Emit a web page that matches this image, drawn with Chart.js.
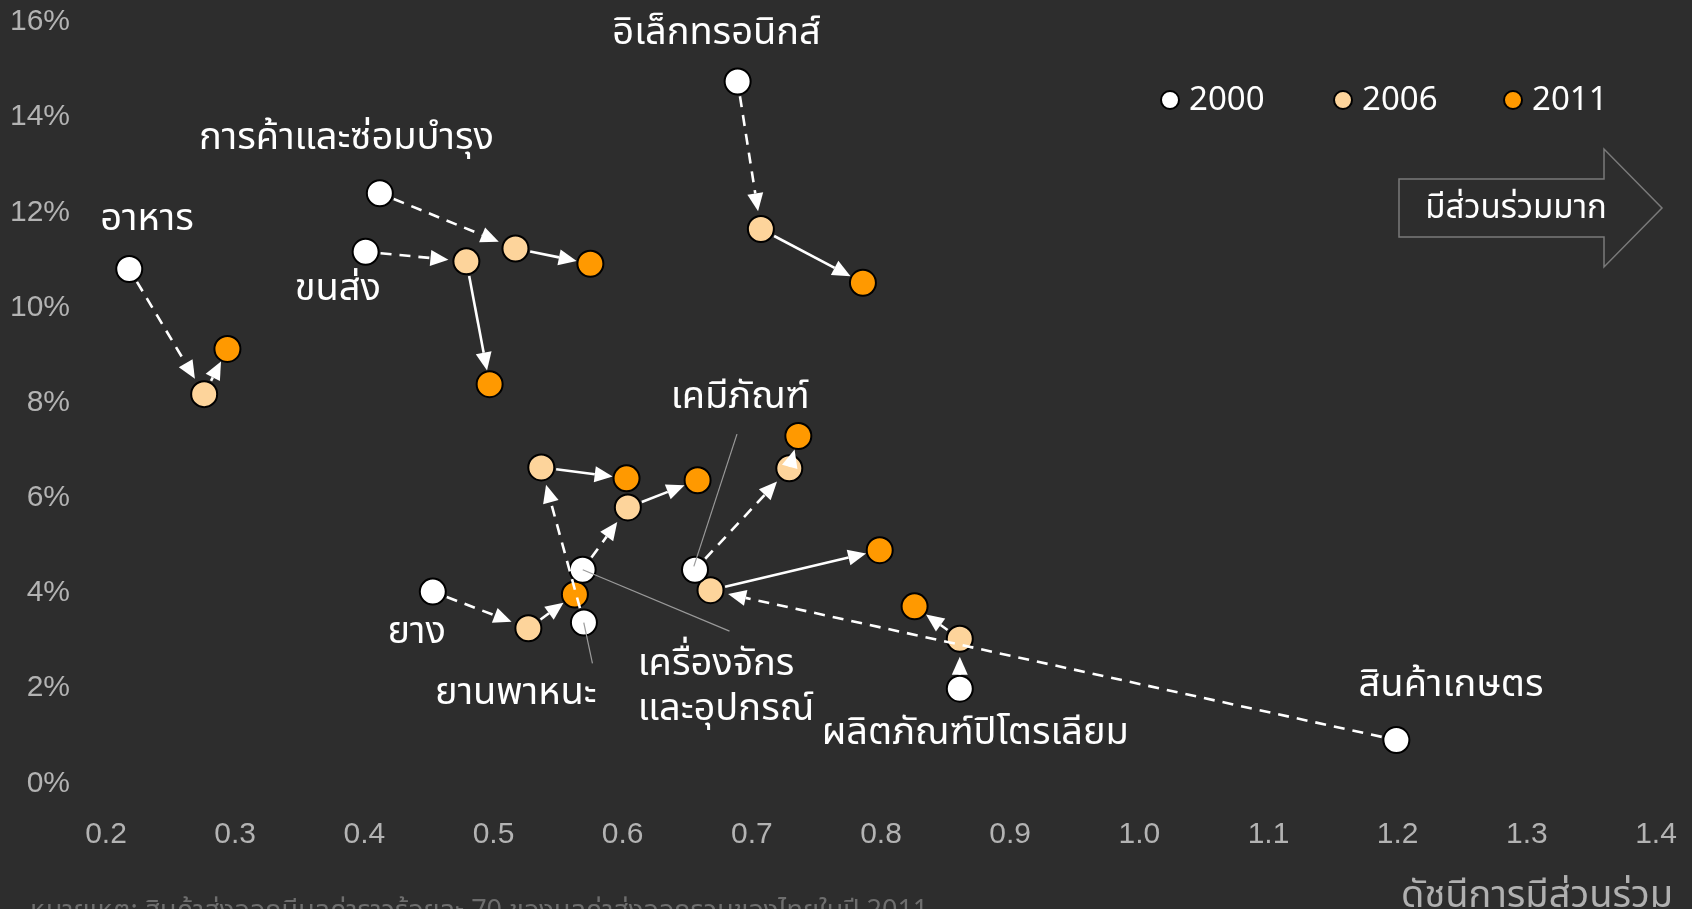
<!DOCTYPE html>
<html><head><meta charset="utf-8">
<script src="https://cdn.jsdelivr.net/npm/chart.js@4.4.1/dist/chart.umd.min.js"></script>
<style>html,body{margin:0;padding:0;background:#2d2d2d;overflow:hidden}#wrap{width:1692px;height:909px;position:relative}</style>
</head><body><div id="wrap"><canvas id="c"></canvas></div>
<script>
// ---- data ----
const categories = ['อาหาร','การค้าและซ่อมบำรุง','ขนส่ง','อิเล็กทรอนิกส์','เคมีภัณฑ์','สินค้าเกษตร','ผลิตภัณฑ์ปิโตรเลียม','เครื่องจักรและอุปกรณ์','ยานพาหนะ','ยาง'];
const years = ['2000','2006','2011'];
const x2000 = [0.218,0.412,0.401,0.689,0.656,1.199,0.861,0.569,0.570,0.453];
const y2000 = [10.81,12.40,11.17,14.75,4.49,0.91,1.99,4.49,3.38,4.03];
const x2006 = [0.276,0.517,0.479,0.707,0.729,0.668,0.861,0.604,0.537,0.527];
const y2006 = [8.18,11.24,10.97,11.65,6.62,4.06,3.04,5.80,6.64,3.26];
const x2011 = [0.294,0.575,0.497,0.786,0.736,0.799,0.826,0.658,0.603,0.563];
const y2011 = [9.13,10.92,8.39,10.52,7.30,4.90,3.72,6.37,6.41,3.97];
const xTicks = [0.2,0.3,0.4,0.5,0.6,0.7,0.8,0.9,1.0,1.1,1.2,1.3,1.4];
const yTicks = [0,2,4,6,8,10,12,14,16];
const xTitle = 'ดัชนีการมีส่วนร่วม';
const arrowNote = 'มีส่วนร่วมมาก';
const footnote = 'หมายเหตุ: สินค้าส่งออกมีมูลค่าราวร้อยละ 70 ของมูลค่าส่งออกรวมของไทยในปี 2011';

// ---- annotation placement (data coordinates) ----
const labelLines = [['อาหาร'],['การค้าและซ่อมบำรุง'],['ขนส่ง'],['อิเล็กทรอนิกส์'],['เคมีภัณฑ์'],['สินค้าเกษตร'],['ผลิตภัณฑ์ปิโตรเลียม'],['เครื่องจักร','และอุปกรณ์'],['ยานพาหนะ'],['ยาง']];
const labelAt = [
  {x:0.2317,y:11.92,a:'center'},{x:0.3862,y:13.62,a:'center'},{x:0.3795,y:10.45,a:'center'},
  {x:0.6727,y:15.82,a:'center'},{x:0.691,y:8.18,a:'center'},{x:1.2413,y:2.13,a:'center'},
  {x:0.873,y:1.11,a:'center'},{x:0.6117,y:2.56,a:'left'},{x:0.5173,y:1.95,a:'center'},{x:0.4405,y:3.24,a:'center'}
];
const leaders = [
  [0.6885,7.34,0.6551,4.56],
  [0.5766,2.52,0.5699,3.38],
  [0.6827,3.20,0.5691,4.49]
];

const BG = '#2d2d2d';
const COLORS = ['#ffffff','#fdd49b','#ff9900'];
const THAI = "'Noto Sans Thai','Noto Sans Thai UI','Noto Sans','Loma','Garuda',sans-serif";
const LATIN = "'Liberation Sans', Arial, sans-serif";

function pts(xs, ys){ return xs.map((x,i)=>({x:x, y:ys[i]})); }

function arrow(ctx,x0,y0,x1,y1,dashed,s,e){
  const dx=x1-x0, dy=y1-y0, L=Math.hypot(dx,dy); if(L<1) return;
  const ux=dx/L, uy=dy/L;
  const sx=x0+ux*s, sy=y0+uy*s, tx=x1-ux*e, ty=y1-uy*e;
  const hl=18, hw=8;
  const bx=tx-ux*hl, by=ty-uy*hl;
  ctx.setLineDash(dashed?[11,8]:[]);
  ctx.beginPath(); ctx.moveTo(sx,sy); ctx.lineTo(bx,by); ctx.stroke();
  ctx.setLineDash([]);
  ctx.beginPath(); ctx.moveTo(tx,ty); ctx.lineTo(bx-uy*hw,by+ux*hw); ctx.lineTo(bx+uy*hw,by-ux*hw); ctx.closePath(); ctx.fill();
}

const overlay = {
  id:'overlay',
  beforeDraw(chart){ const c=chart.ctx; c.save(); c.fillStyle=BG; c.fillRect(0,0,chart.width,chart.height); c.restore(); },
  afterDatasetsDraw(chart){
    const c=chart.ctx, xs=chart.scales.x, ys=chart.scales.y;
    const px=v=>xs.getPixelForValue(v), py=v=>ys.getPixelForValue(v);
    c.save();
    // leader lines
    c.strokeStyle='#9a9a9a'; c.lineWidth=1.2;
    leaders.forEach(l=>{ c.beginPath(); c.moveTo(px(l[0]),py(l[1])); c.lineTo(px(l[2]),py(l[3])); c.stroke(); });
    // arrows
    c.strokeStyle='#ffffff'; c.fillStyle='#ffffff'; c.lineWidth=2.6;
    categories.forEach((_,i)=>{
      arrow(c,px(x2000[i]),py(y2000[i]),px(x2006[i]),py(y2006[i]),true,15,18);
      arrow(c,px(x2006[i]),py(y2006[i]),px(x2011[i]),py(y2011[i]),false,15,14);
    });
    // labels
    c.fillStyle='#ffffff'; c.font='38px '+THAI; c.textBaseline='middle';
    labelLines.forEach((lines,i)=>{
      const p=labelAt[i]; c.textAlign=p.a;
      lines.forEach((t,k)=>c.fillText(t,px(p.x),py(p.y)+6+k*45));
    });
    // legend
    const lx=[1170,1343,1513];
    years.forEach((yr,i)=>{
      c.beginPath(); c.arc(lx[i],100,9,0,Math.PI*2); c.fillStyle=COLORS[i]; c.fill();
      c.lineWidth=2; c.strokeStyle='#000'; c.stroke();
      c.fillStyle='#fff'; c.font='33px '+THAI; c.textAlign='left'; c.textBaseline='middle';
      c.fillText(yr,lx[i]+19,103);
    });
    // big arrow shape
    c.beginPath();
    c.moveTo(1399,179); c.lineTo(1604,179); c.lineTo(1604,149); c.lineTo(1662,208);
    c.lineTo(1604,267); c.lineTo(1604,237); c.lineTo(1399,237); c.closePath();
    c.lineWidth=1.5; c.strokeStyle='#7a7a7a'; c.stroke();
    c.fillStyle='#fff'; c.font='33px '+THAI; c.textAlign='center'; c.textBaseline='middle';
    c.fillText(arrowNote,1516,211);
    // axis title
    c.fillStyle='#b0b0b0'; c.font='38px '+THAI; c.textAlign='right'; c.textBaseline='middle';
    c.fillText(xTitle,1673,899);
    // footnote
    c.fillStyle='#6e6e6e'; c.font='27px '+THAI; c.textAlign='left'; c.textBaseline='middle';
    c.fillText(footnote,30,914);
    c.restore();
  }
};

new Chart(document.getElementById('c'),{
  type:'scatter',
  data:{ datasets: years.map((yr,i)=>({
    label: yr,
    data: pts([x2000,x2006,x2011][i],[y2000,y2006,y2011][i]),
    backgroundColor: COLORS[i], borderColor:'#000', borderWidth:2,
    pointRadius:13, pointHoverRadius:13
  }))},
  options:{
    responsive:true, maintainAspectRatio:false, animation:false,
    layout:{padding:{top:22,right:36,left:0,bottom:0}},
    plugins:{legend:{display:false},tooltip:{enabled:false}},
    scales:{
      x:{type:'linear',min:0.2,max:1.4,
        afterBuildTicks(s){ s.ticks = xTicks.map(v=>({value:v})); },
        afterFit(s){ s.height=125.6; s.paddingLeft=0; s.paddingRight=0; s.paddingTop=0; s.paddingBottom=0; },
        grid:{display:false,drawTicks:false}, border:{display:false},
        ticks:{color:'#b3b3b3',font:{family:LATIN,size:30},padding:33,callback:v=>Number(v).toFixed(1),maxRotation:0,autoSkip:false}},
      y:{type:'linear',min:0,max:16,
        afterBuildTicks(s){ s.ticks = yTicks.map(v=>({value:v})); },
        afterFit(s){ s.width=106; s.paddingLeft=0; s.paddingRight=0; s.paddingTop=0; s.paddingBottom=0; },
        grid:{display:false,drawTicks:false}, border:{display:false},
        ticks:{color:'#b3b3b3',font:{family:LATIN,size:30},padding:36,callback:v=>v+'%',autoSkip:false}}
    }
  },
  plugins:[overlay]
});
</script></body></html>
